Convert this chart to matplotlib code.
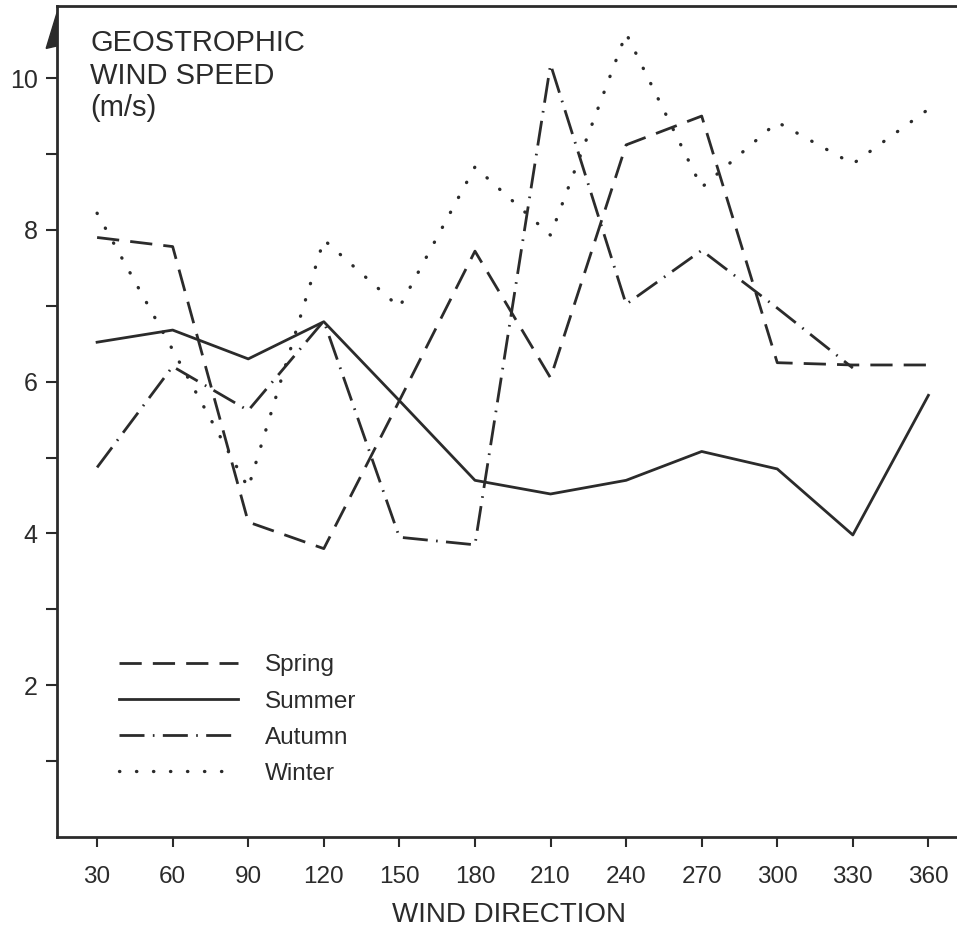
import matplotlib.pyplot as plt
from matplotlib.patches import Polygon

# wind direction (degrees) and seasonal geostrophic wind speed (m/s)
directions = [30, 60, 90, 120, 150, 180, 210, 240, 270, 300, 330, 360]
spring = [7.9, 7.78, 4.15, 3.8, 5.75, 7.72, 6.05, 9.12, 9.5, 6.25, 6.22, 6.22]
summer = [6.52, 6.68, 6.3, 6.79, 5.75, 4.7, 4.52, 4.7, 5.08, 4.85, 3.98, 5.82]
autumn = [4.87, 6.2, 5.62, 6.8, 3.95, 3.85, 10.18, 7.02, 7.73, 6.97, 6.18]
winter = [8.22, 6.42, 4.6, 7.87, 6.98, 8.83, 7.93, 10.59, 8.56, 9.42, 8.87, 9.59]

y_ticks = [1, 2, 3, 4, 5, 6, 7, 8, 9, 10]
y_labels = ['', '2', '', '4', '', '6', '', '8', '', '10']

ink = '#2b2b2b'
plt.rcParams['font.family'] = ['Liberation Sans', 'DejaVu Sans']

fig = plt.figure(figsize=(9.57, 9.27), dpi=100)
ax = fig.add_axes([0.0596, 0.0971, 0.945, 0.8964])

lw = 2.0
ax.plot(directions, spring, color=ink, lw=lw, linestyle=(0, (8, 4)), label='Spring')
ax.plot(directions, summer, color=ink, lw=lw, linestyle='-', label='Summer')
ax.plot(directions[:len(autumn)], autumn, color=ink, lw=lw,
        linestyle=(0, (9, 3, 0.6, 3)), label='Autumn')
ax.plot(directions, winter, color=ink, lw=2.4, linestyle=(0, (0.1, 5.0)),
        dash_capstyle='round', label='Winter')

ax.set_xlim(14.1, 373.1)
ax.set_ylim(0, 10.95)
ax.set_xticks(directions)
ax.set_yticks(y_ticks)
ax.set_yticklabels(y_labels)

for side in ['left', 'bottom', 'top']:
    ax.spines[side].set_linewidth(2.0)
    ax.spines[side].set_color(ink)
ax.spines['right'].set_visible(False)

ax.tick_params(axis='x', direction='out', length=7, width=1.5, pad=14,
               labelsize=17.5, colors=ink)
ax.tick_params(axis='y', direction='out', length=8, width=1.5, pad=6,
               labelsize=18, colors=ink)

ax.set_xlabel('WIND DIRECTION', fontsize=20, color=ink, labelpad=10)

# axis title written inside the plot, as in the original figure
ax.text(0.037, 0.972, 'GEOSTROPHIC\nWIND SPEED\n(m/s)', transform=ax.transAxes,
        ha='left', va='top', fontsize=21, color=ink, linespacing=1.2)

# half arrowhead on top of the y axis
ax.add_patch(Polygon([(0.0, 0.992), (0.0, 0.952), (-0.012, 0.949)],
                     closed=True, transform=ax.transAxes, color=ink,
                     clip_on=False))

ax.legend(loc='upper left', bbox_to_anchor=(0.044, 0.246), frameon=False,
          fontsize=17.5, handlelength=4.9, handletextpad=1.1, labelspacing=0.58,
          labelcolor=ink)

fig.savefig('out.png', dpi=100)
